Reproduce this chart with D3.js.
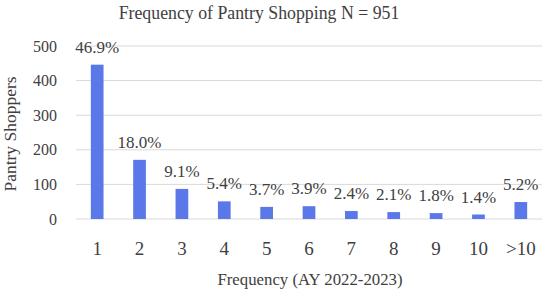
<!DOCTYPE html>
<html>
<head>
<meta charset="utf-8">
<script src="https://cdn.jsdelivr.net/npm/d3@7"></script>
<style>
  body { margin: 0; background: #fff; }
  text { font-family: "Liberation Serif", serif; fill: #404040; }
</style>
</head>
<body>
<div id="chart"></div>
<script>
var width = 550,
    height = 295;

// data
var categories = ["1", "2", "3", "4", "5", "6", "7", "8", "9", "10", ">10"];
var shoppers = [446, 171, 87, 51, 35, 37, 23, 20, 17, 13, 49];
var percents = ["46.9%", "18.0%", "9.1%", "5.4%", "3.7%", "3.9%", "2.4%", "2.1%", "1.8%", "1.4%", "5.2%"];
var yTicks = [0, 100, 200, 300, 400, 500];

var margin = {top: 46, right: 8, bottom: 76, left: 76};
var innerW = width - margin.left - margin.right,
    innerH = height - margin.top - margin.bottom;

var svg = d3.select("#chart").append("svg")
    .attr("width", width)
    .attr("height", height);

var g = svg.append("g")
    .attr("transform", "translate(" + margin.left + "," + margin.top + ")");

var x = d3.scaleBand()
    .domain(categories)
    .range([0, innerW])
    .paddingInner(0.7)
    .paddingOuter(0.35);

var y = d3.scaleLinear()
    .domain([0, 500])
    .range([innerH, 0]);

// gridlines
g.selectAll(".grid")
  .data(yTicks)
  .enter().append("line")
    .attr("x1", 0)
    .attr("x2", innerW)
    .attr("y1", function(d) { return y(d); })
    .attr("y2", function(d) { return y(d); })
    .attr("stroke", "#d9d9d9")
    .attr("stroke-width", 1);

// y axis labels
var yAxis = g.append("g")
    .call(d3.axisLeft(y).tickValues(yTicks).tickSize(0).tickPadding(19));
yAxis.select(".domain").remove();
yAxis.selectAll("text")
    .style("font-size", "16px")
    .style("font-family", "Liberation Serif, serif")
    .attr("fill", "#404040");

// x axis labels
var xAxis = g.append("g")
    .attr("transform", "translate(0," + innerH + ")")
    .call(d3.axisBottom(x).tickSize(0).tickPadding(23));
xAxis.select(".domain").remove();
xAxis.selectAll("text")
    .style("font-size", "19px")
    .style("font-family", "Liberation Serif, serif")
    .attr("fill", "#404040");

// bars
g.selectAll(".bar")
  .data(shoppers)
  .enter().append("rect")
    .attr("x", function(d, i) { return x(categories[i]); })
    .attr("y", function(d) { return y(d); })
    .attr("width", x.bandwidth())
    .attr("height", function(d) { return innerH - y(d); })
    .attr("fill", "#5b78e8");

// data labels
g.selectAll(".lbl")
  .data(shoppers)
  .enter().append("text")
    .attr("x", function(d, i) { return x(categories[i]) + x.bandwidth() / 2; })
    .attr("y", function(d) { return y(d) - 12; })
    .attr("text-anchor", "middle")
    .style("font-size", "17px")
    .text(function(d, i) { return percents[i]; });

// titles
svg.append("text")
    .attr("x", 259)
    .attr("y", 19)
    .attr("text-anchor", "middle")
    .style("font-size", "17.8px")
    .text("Frequency of Pantry Shopping N = 951");

svg.append("text")
    .attr("x", 310)
    .attr("y", 285)
    .attr("text-anchor", "middle")
    .style("font-size", "16.8px")
    .text("Frequency (AY 2022-2023)");

svg.append("text")
    .attr("transform", "translate(16,134) rotate(-90)")
    .attr("text-anchor", "middle")
    .style("font-size", "17.5px")
    .text("Pantry Shoppers");
</script>
</body>
</html>
